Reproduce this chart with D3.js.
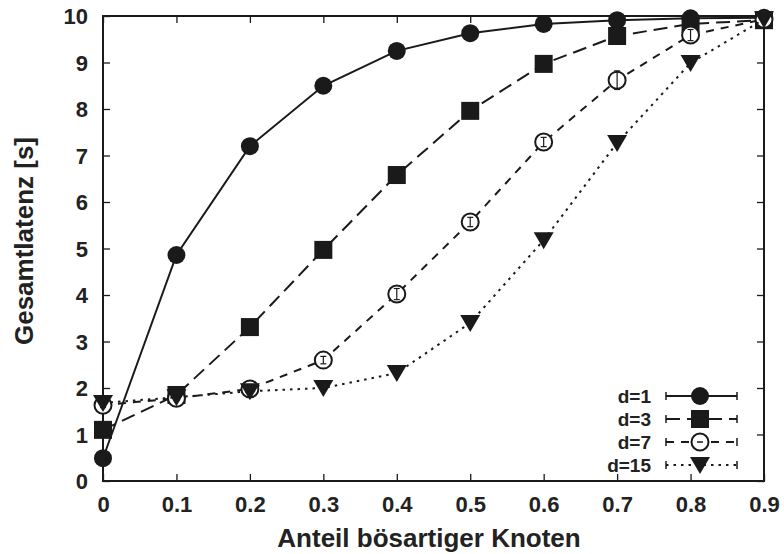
<!DOCTYPE html>
<html>
<head>
<meta charset="utf-8">
<script src="https://cdn.jsdelivr.net/npm/d3@7/dist/d3.min.js"></script>
<style>
  html, body { margin: 0; padding: 0; background: #fff; }
  svg { display: block; }
  text { font-family: "Liberation Sans", Arial, sans-serif; font-weight: bold; fill: #222; }
</style>
</head>
<body>
<svg id="chart" width="784" height="554"></svg>
<script>
// Fraction of malicious nodes (x) and total latency in seconds (y)
const xValues = [0, 0.1, 0.2, 0.3, 0.4, 0.5, 0.6, 0.7, 0.8, 0.9];
const xTicks = [0, 0.1, 0.2, 0.3, 0.4, 0.5, 0.6, 0.7, 0.8, 0.9];
const yTicks = [0, 1, 2, 3, 4, 5, 6, 7, 8, 9, 10];

const seriesNames = ["d=1", "d=3", "d=7", "d=15"];
const latencyD1  = [0.49, 4.86, 7.2, 8.5, 9.25, 9.63, 9.83, 9.91, 9.95, 9.96];
const latencyD3  = [1.1, 1.85, 3.31, 4.97, 6.58, 7.96, 8.97, 9.57, 9.83, 9.91];
const latencyD7  = [1.63, 1.78, 1.98, 2.6, 4.02, 5.57, 7.29, 8.62, 9.59, 9.93];
const latencyD15 = [1.68, 1.8, 1.93, 2.0, 2.32, 3.4, 5.18, 7.27, 8.99, 9.93];
// half-width of the error bars
const errD1  = [0.05, 0.12, 0.05, 0.05, 0.04, 0.04, 0.03, 0.03, 0.03, 0.02];
const errD3  = [0.05, 0.05, 0.05, 0.05, 0.05, 0.05, 0.05, 0.05, 0.05, 0.03];
const errD7  = [0.05, 0.05, 0.08, 0.08, 0.12, 0.1, 0.1, 0.2, 0.12, 0.03];
const errD15 = [0.05, 0.05, 0.05, 0.05, 0.05, 0.15, 0.15, 0.1, 0.2, 0.03];

const series = [
  { name: seriesNames[0], values: latencyD1,  err: errD1,  dash: null,  symbol: "circle" },
  { name: seriesNames[1], values: latencyD3,  err: errD3,  dash: "14,7", symbol: "square" },
  { name: seriesNames[2], values: latencyD7,  err: errD7,  dash: "8,7",  symbol: "open" },
  { name: seriesNames[3], values: latencyD15, err: errD15, dash: "2.5,5", symbol: "triangle" }
];

const svg = d3.select("#chart");
const ink = "#1a1a1a";
const plot = { left: 103, right: 764, top: 16, bottom: 481 };

const x = d3.scaleLinear().domain([0, 0.9]).range([plot.left, plot.right]);
const y = d3.scaleLinear().domain([0, 10]).range([plot.bottom, plot.top]);

// Axes with inward ticks, mirrored on the top and right
const tickLen = 7;
const gx = svg.append("g").attr("transform", `translate(0,${plot.bottom})`)
  .call(d3.axisBottom(x).tickValues(xTicks).tickSizeInner(-tickLen).tickSizeOuter(0)
        .tickFormat(d => d === 0 ? "0" : d3.format(".1f")(d)));
gx.selectAll(".tick text").attr("y", 31).attr("dy", null);
const gy = svg.append("g").attr("transform", `translate(${plot.left},0)`)
  .call(d3.axisLeft(y).tickValues(yTicks).tickSizeInner(-tickLen).tickSizeOuter(0)
        .tickFormat(d3.format("d")));
gy.selectAll(".tick text").attr("x", -15).attr("dy", "0.36em");
svg.append("g").attr("transform", `translate(0,${plot.top})`)
  .call(d3.axisTop(x).tickValues(xTicks).tickSizeInner(-tickLen).tickSizeOuter(0).tickFormat(""));
svg.append("g").attr("transform", `translate(${plot.right},0)`)
  .call(d3.axisRight(y).tickValues(yTicks).tickSizeInner(-tickLen).tickSizeOuter(0).tickFormat(""));

svg.selectAll(".domain").remove();
svg.selectAll(".tick line").attr("stroke", ink).attr("stroke-width", 1.3);
svg.selectAll(".tick text").style("font-size", "22px").attr("fill", ink);

// Frame
svg.append("rect")
  .attr("x", plot.left).attr("y", plot.top)
  .attr("width", plot.right - plot.left).attr("height", plot.bottom - plot.top)
  .attr("fill", "none").attr("stroke", ink).attr("stroke-width", 2);

// Axis titles
svg.append("text")
  .attr("x", 429).attr("y", 547)
  .attr("text-anchor", "middle").style("font-size", "26px")
  .text("Anteil bösartiger Knoten");
svg.append("text")
  .attr("transform", "translate(33,241) rotate(-90)")
  .attr("text-anchor", "middle").style("font-size", "26px")
  .text("Gesamtlatenz [s]");

function drawSymbol(g, kind, cx, cy) {
  if (kind === "circle") {
    g.append("circle").attr("cx", cx).attr("cy", cy).attr("r", 9).attr("fill", ink);
  } else if (kind === "square") {
    g.append("rect").attr("x", cx - 9).attr("y", cy - 9).attr("width", 18).attr("height", 18).attr("fill", ink);
  } else if (kind === "open") {
    g.append("circle").attr("cx", cx).attr("cy", cy).attr("r", 8.5)
      .attr("fill", "#fff").attr("stroke", ink).attr("stroke-width", 2);
  } else {
    g.append("path")
      .attr("d", `M${cx - 10},${cy - 8}L${cx + 10},${cy - 8}L${cx},${cy + 9}Z`)
      .attr("fill", ink);
  }
}

const line = d3.line().x((d, i) => x(xValues[i])).y(d => y(d));

series.forEach(s => {
  const g = svg.append("g");
  g.append("path")
    .attr("d", line(s.values))
    .attr("fill", "none").attr("stroke", ink).attr("stroke-width", 2)
    .attr("stroke-dasharray", s.dash);
  s.values.forEach((v, i) => {
    drawSymbol(g, s.symbol, x(xValues[i]), y(v));
  });
  // error bars, visible inside the open markers
  if (s.symbol === "open") {
    s.values.forEach((v, i) => {
      const cx = x(xValues[i]);
      const y0 = y(v - s.err[i]), y1 = y(v + s.err[i]);
      g.append("line").attr("x1", cx).attr("x2", cx).attr("y1", y0).attr("y2", y1)
        .attr("stroke", ink).attr("stroke-width", 1.2);
      [y0, y1].forEach(yy => g.append("line").attr("x1", cx - 3).attr("x2", cx + 3)
        .attr("y1", yy).attr("y2", yy).attr("stroke", ink).attr("stroke-width", 1.2));
    });
  }
});

// Legend
const legend = svg.append("g");
const legRows = [396, 419, 442, 465];
series.forEach((s, i) => {
  const ly = legRows[i];
  legend.append("text").attr("x", 651).attr("y", ly).attr("dy", "0.36em")
    .attr("text-anchor", "end").style("font-size", "19px").text(s.name);
  legend.append("line").attr("x1", 666).attr("x2", 737).attr("y1", ly).attr("y2", ly)
    .attr("stroke", ink).attr("stroke-width", 2).attr("stroke-dasharray", s.dash);
  [666, 737].forEach(ex => legend.append("line").attr("x1", ex).attr("x2", ex)
    .attr("y1", ly - 4).attr("y2", ly + 4).attr("stroke", ink).attr("stroke-width", 1.5));
  drawSymbol(legend, s.symbol, 700, ly);
  if (s.symbol === "open") {
    legend.append("line").attr("x1", 697).attr("x2", 703).attr("y1", ly).attr("y2", ly)
      .attr("stroke", ink).attr("stroke-width", 1.5);
  }
});
</script>
</body>
</html>
